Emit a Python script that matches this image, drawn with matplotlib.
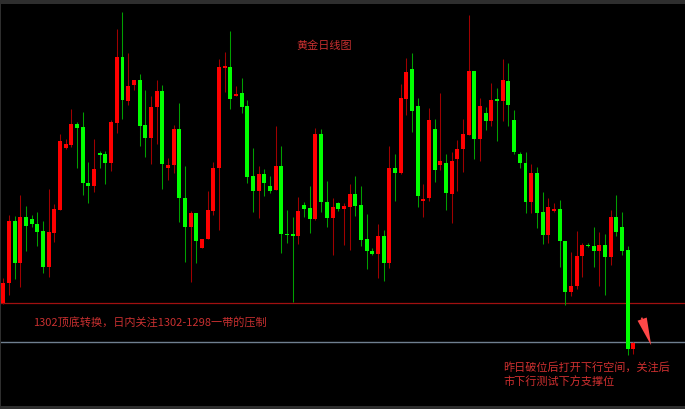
import numpy as np
import matplotlib
matplotlib.use("Agg")
import matplotlib.pyplot as plt

plt.rcParams['font.family'] = ['Noto Sans CJK SC', 'DejaVu Sans']

# daily gold candles
opens = [1302.0, 1311.9, 1343.2, 1321.9, 1344.9, 1344.2, 1341.5, 1338.2, 1319.9, 1337.2,
         1348.5, 1379.7, 1381.0, 1391.5, 1390.0, 1362.2, 1360.7, 1377.2, 1376.5, 1372.2,
         1392.2, 1424.9, 1403.2, 1410.9, 1413.5, 1390.9, 1384.4, 1399.9, 1407.9, 1369.7,
         1371.0, 1388.9, 1354.4, 1340.2, 1346.9, 1329.4, 1333.9, 1348.0, 1369.4, 1419.7,
         1419.9, 1405.5, 1406.9, 1400.5, 1365.5, 1358.0, 1366.5, 1360.5, 1358.5, 1370.5,
         1336.5, 1336.4, 1335.5, 1351.0, 1349.7, 1344.2, 1386.4, 1352.7, 1344.7, 1351.9,
         1349.2, 1350.2, 1356.5, 1351.0, 1333.9, 1328.2, 1326.5, 1335.5, 1322.2, 1369.7,
         1367.2, 1403.9, 1419.0, 1400.5, 1353.0, 1354.7, 1389.0, 1371.0, 1371.9, 1356.4,
         1373.9, 1379.0, 1386.0, 1418.0, 1384.0, 1397.2, 1393.2, 1403.7, 1403.2, 1413.2,
         1393.5, 1376.5, 1372.2, 1352.7, 1367.2, 1347.5, 1336.0, 1348.2, 1349.0, 1333.2,
         1307.4, 1310.7, 1325.5, 1331.0, 1330.5, 1328.0, 1331.0, 1325.2, 1344.9, 1339.9,
         1328.5, 1279.0]
highs = [1314.5, 1346.0, 1345.5, 1356.0, 1350.5, 1346.0, 1347.4, 1343.2, 1359.0, 1351.5,
         1386.5, 1383.9, 1399.0, 1392.7, 1397.4, 1372.4, 1383.9, 1378.2, 1378.2, 1393.5,
         1438.9, 1447.5, 1426.9, 1413.5, 1416.5, 1408.5, 1405.5, 1413.5, 1411.0, 1374.4,
         1391.0, 1401.9, 1370.5, 1348.2, 1346.9, 1334.2, 1358.0, 1372.4, 1423.9, 1427.7,
         1438.0, 1410.5, 1414.4, 1403.5, 1379.7, 1370.5, 1368.9, 1365.5, 1390.5, 1380.5,
         1348.5, 1344.9, 1354.9, 1352.7, 1360.5, 1389.4, 1389.0, 1363.2, 1354.4, 1352.7,
         1351.9, 1361.5, 1365.5, 1360.5, 1346.4, 1329.4, 1341.5, 1338.5, 1380.5, 1376.5,
         1411.5, 1424.4, 1426.9, 1404.4, 1361.5, 1399.4, 1394.0, 1406.9, 1376.5, 1377.7,
         1383.5, 1394.0, 1446.0, 1418.0, 1404.7, 1400.2, 1412.2, 1409.7, 1424.2, 1421.9,
         1398.5, 1377.7, 1377.7, 1371.5, 1369.9, 1357.7, 1354.4, 1351.9, 1353.5, 1333.2,
         1327.4, 1338.2, 1332.2, 1332.2, 1340.2, 1337.4, 1336.5, 1348.5, 1356.0, 1347.7,
         1330.5, 1282.5]
lows = [1301.5, 1306.0, 1313.9, 1309.9, 1328.2, 1340.2, 1330.5, 1316.9, 1315.2, 1332.7,
        1348.5, 1378.9, 1380.2, 1369.4, 1356.0, 1352.2, 1357.7, 1369.7, 1361.5, 1368.2,
        1386.9, 1393.9, 1401.0, 1408.5, 1380.7, 1375.2, 1371.5, 1381.5, 1359.0, 1363.5,
        1367.2, 1342.7, 1322.7, 1312.7, 1321.9, 1329.4, 1333.9, 1346.0, 1338.5, 1407.7,
        1399.2, 1405.5, 1397.2, 1361.9, 1347.7, 1344.4, 1355.5, 1357.2, 1358.5, 1327.2,
        1332.2, 1302.7, 1331.5, 1345.2, 1336.9, 1343.5, 1347.7, 1340.2, 1326.0, 1348.2,
        1331.0, 1328.5, 1345.5, 1330.5, 1318.9, 1326.0, 1314.4, 1313.2, 1319.4, 1353.0,
        1366.5, 1396.0, 1387.5, 1350.2, 1344.9, 1353.2, 1362.7, 1368.5, 1348.5, 1342.2,
        1358.2, 1367.7, 1386.0, 1373.9, 1373.0, 1388.5, 1390.7, 1383.0, 1393.2, 1390.5,
        1376.5, 1369.4, 1347.2, 1347.2, 1339.7, 1331.4, 1331.9, 1347.7, 1320.2, 1301.0,
        1305.7, 1308.9, 1314.9, 1329.9, 1319.9, 1310.5, 1306.0, 1321.0, 1335.5, 1326.0,
        1276.0, 1276.5]
closes = [1312.0, 1343.2, 1321.9, 1344.9, 1340.5, 1341.4, 1337.7, 1319.9, 1337.5, 1348.9,
          1382.9, 1381.5, 1391.5, 1389.7, 1361.9, 1360.7, 1368.9, 1376.0, 1372.2, 1392.4,
          1424.9, 1403.5, 1410.5, 1413.5, 1390.5, 1384.7, 1400.0, 1407.9, 1371.5, 1371.0,
          1389.0, 1354.7, 1339.9, 1346.9, 1333.0, 1334.2, 1348.5, 1369.7, 1419.9, 1420.5,
          1404.2, 1406.4, 1400.2, 1365.2, 1358.0, 1366.5, 1362.2, 1358.2, 1370.5, 1336.5,
          1336.0, 1335.5, 1348.2, 1349.2, 1344.2, 1386.4, 1352.7, 1344.7, 1350.2, 1348.9,
          1350.5, 1356.5, 1350.5, 1333.5, 1328.0, 1326.5, 1335.5, 1322.2, 1369.7, 1367.2,
          1404.4, 1417.5, 1398.2, 1355.5, 1353.9, 1393.5, 1368.5, 1373.0, 1357.2, 1373.2,
          1379.0, 1386.5, 1418.0, 1384.0, 1400.5, 1393.2, 1403.5, 1403.2, 1413.5, 1401.0,
          1377.5, 1371.9, 1352.7, 1367.2, 1347.2, 1336.0, 1350.2, 1349.0, 1333.0, 1307.4,
          1310.7, 1325.7, 1331.0, 1330.5, 1328.0, 1331.0, 1325.2, 1344.9, 1337.7, 1328.2,
          1279.0, 1282.0]

resistance = 1302.0
support = 1282.3
title = "黄金日线图"
note_top = "1302顶底转换，日内关注1302-1298一带的压制"
note_bottom = "昨日破位后打开下行空间，关注后\n市下行测试下方支撑位"

o = np.array(opens)
h = np.array(highs)
l = np.array(lows)
c = np.array(closes)
x = np.arange(len(o))
up = c >= o  # red = up, green = down

fig = plt.figure(figsize=(6.85, 4.09), dpi=100, facecolor="#2e2e2e")
ax = fig.add_axes([1 / 685, 3.5 / 409, 684 / 685, 402 / 409])
ax.set_facecolor("black")

# wicks
ax.vlines(x[up], l[up], h[up], color="#a00000", lw=0.75, zorder=2)
ax.vlines(x[~up], l[~up], h[~up], color="#00a000", lw=0.75, zorder=2)

# bodies
body_low = np.minimum(o, c)
body_h = np.maximum(np.abs(c - o), 0.6)
ax.bar(x[up], body_h[up], bottom=body_low[up], width=0.7, color="#ff0000", lw=0, zorder=3)
ax.bar(x[~up], body_h[~up], bottom=body_low[~up], width=0.7, color="#00ff00", lw=0, zorder=3)

ax.axhline(resistance, color="#a01010", lw=0.9, zorder=1)
ax.axhline(support, color="#6f7f8f", lw=1.0, zorder=1)

ax.text(0.472, 0.894, title, transform=ax.transAxes, ha="center", va="center",
        fontsize=8, color="#c83030")
ax.text(0.0463, 0.205, note_top, transform=ax.transAxes, ha="left", va="center",
        fontsize=8, color="#c83030")
ax.text(0.7346, 0.078, note_bottom, transform=ax.transAxes, ha="left", va="center",
        fontsize=8, color="#d03030", linespacing=1.35)

# little arrow pointing down at the last candles
ax.annotate("", xy=(114.3, 1279.5), xytext=(112.3, 1296.0),
            arrowprops=dict(arrowstyle="simple,head_length=2.0,head_width=0.7,tail_width=0.12",
                            color="#ff4848", lw=0))

ax.set_xlim(-0.405, 120.1)
ax.set_ylim(1250.75, 1451.75)
ax.set_xticks([])
ax.set_yticks([])
for s in ax.spines.values():
    s.set_visible(False)

fig.savefig("out.png", dpi=100, facecolor=fig.get_facecolor())
